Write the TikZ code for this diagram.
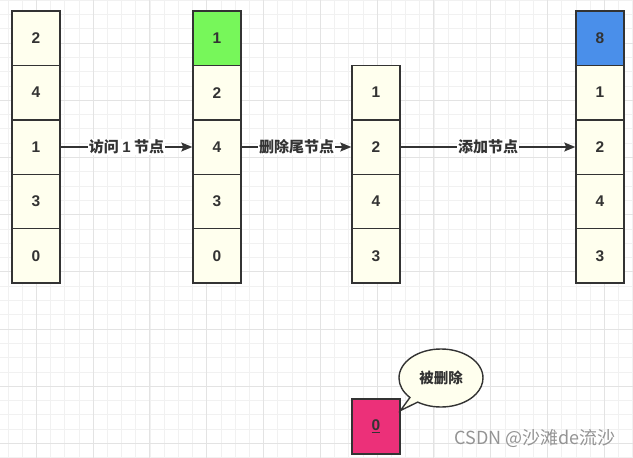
\documentclass[tikz,border=0pt]{standalone}
\usepackage{fontspec}
\setmainfont{Liberation Sans}
\newfontfamily\cjk{Noto Sans CJK SC}
\usetikzlibrary{shapes.callouts,arrows.meta}
\definecolor{cream}{HTML}{FFFFEE}
\definecolor{edge}{HTML}{333333}
\definecolor{greencell}{HTML}{77F75A}
\definecolor{bluecell}{HTML}{4A8FEA}
\definecolor{pinkcell}{HTML}{EC3079}
\definecolor{minorgrid}{HTML}{F1F1F1}
\definecolor{majorgrid}{HTML}{E3E3E3}
\tikzset{
  cell/.style={draw=edge, line width=1.4pt, fill=cream, minimum width=48pt, minimum height=54.4pt,
    inner sep=0pt, text=edge, font=\fontsize{15.5}{18}\selectfont\bfseries},
  conn/.style={draw=edge, line width=1.2pt, -{Stealth[length=11pt,width=9pt,inset=2pt]}},
  lbl/.style={fill=white, inner sep=1pt, text=edge, font=\fontsize{15}{18}\selectfont\cjk\bfseries},
}
\begin{document}
\begin{tikzpicture}[x=1pt,y=-1pt]
\useasboundingbox (0,0) rectangle (633,458);
\fill[white] (0,0) rectangle (633,458);
% grid
\foreach \i in {0,...,44} {\draw[minorgrid, line width=0.8pt] ({7.9+14.2*\i},0) -- ({7.9+14.2*\i},458);}
\foreach \i in {0,...,32} {\draw[minorgrid, line width=0.8pt] (0,{0.1+14.3*\i}) -- (633,{0.1+14.3*\i});}
\foreach \i in {0,...,10} {\draw[majorgrid, line width=0.9pt] ({36.3+56.8*\i},0) -- ({36.3+56.8*\i},458);}
\foreach \i in {0,...,7} {\draw[majorgrid, line width=0.9pt] (0,{43+57.2*\i}) -- (633,{43+57.2*\i});}

% column 1
\node[cell] (a1) at (36,38.2) {2};
\node[cell] (a2) at (36,92.6) {4};
\node[cell] (a3) at (36,147) {1};
\node[cell] (a4) at (36,201.4) {3};
\node[cell] (a5) at (36,255.8) {0};
% column 2
\node[cell, fill=greencell] (b1) at (217,38.2) {1};
\node[cell] (b2) at (217,92.6) {2};
\node[cell] (b3) at (217,147) {4};
\node[cell] (b4) at (217,201.4) {3};
\node[cell] (b5) at (217,255.8) {0};
% column 3
\node[cell] (c1) at (376,92.6) {1};
\node[cell] (c2) at (376,147) {2};
\node[cell] (c3) at (376,201.4) {4};
\node[cell] (c4) at (376,255.8) {3};
% column 4
\node[cell, fill=bluecell] (d1) at (600,38.2) {8};
\node[cell] (d2) at (600,92.6) {1};
\node[cell] (d3) at (600,147) {2};
\node[cell] (d4) at (600,201.4) {4};
\node[cell] (d5) at (600,255.8) {3};

% connectors
\draw[conn] (a3.east) -- node[lbl] {访问 {\normalfont\bfseries 1} 节点} (b3.west);
\draw[conn] (b3.east) -- node[lbl] {删除尾节点} (c2.west);
\draw[conn] (c2.east) -- node[lbl] {添加节点} (d3.west);

% deleted node
\node[cell, fill=pinkcell, minimum height=55pt] (del) at (376,426.5) {\underline{0}};
\coordinate (tip) at (400.5,410.5);
\node[ellipse callout, draw=edge, line width=1.4pt, fill=cream, minimum width=84pt, minimum height=58pt,
  inner sep=0pt, callout absolute pointer={(tip)}, callout pointer arc=14,
  font=\fontsize{14.5}{17}\selectfont\cjk\bfseries, text=edge] (note) at (441,378) {被删除};

% watermark
\node[text=black!42, font=\fontsize{18}{21}\selectfont\cjk] (wm) at (535,438.5) {CSDN @沙滩de流沙};
\end{tikzpicture}
\end{document}
